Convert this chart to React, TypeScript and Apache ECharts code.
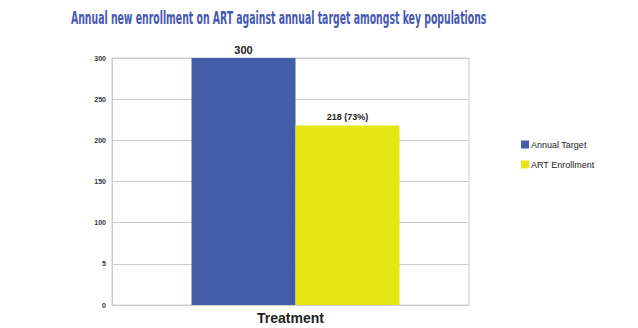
import React, { useEffect, useRef } from "react";
import * as echarts from "echarts";

const titleText = "Annual new enrollment on ART against annual target amongst key populations";
const categories = ["Treatment"];
const seriesNames = ["Annual Target", "ART Enrollment"];
const annualTarget = [300];
const artEnrollment = [218];
const yTickLabels = ["0", "5", "100", "150", "200", "250", "300"];

export default function App() {
  const ref = useRef<HTMLDivElement>(null);
  useEffect(() => {
    const chart = echarts.init(ref.current!, null, { renderer: "svg" });
    chart.setOption({
      animation: false,
      backgroundColor: "#ffffff",
      graphic: [
        {
          type: "text",
          x: 71,
          y: 18,
          scaleX: 0.61,
          scaleY: 1,
          style: {
            text: titleText,
            font: "bold 17px 'DejaVu Sans Condensed'",
            fill: "#4457b3",
            verticalAlign: "middle",
            align: "left",
          },
        },
      ],
      legend: {
        orient: "vertical",
        left: 516,
        top: 135,
        itemWidth: 8,
        itemHeight: 8,
        itemGap: 11,
        icon: "rect",
        textStyle: { fontSize: 9, color: "#222", fontFamily: "Liberation Sans", padding: [0, 0, 0, -3] },
        data: seriesNames,
      },
      grid: {
        left: 112,
        right: 169,
        top: 58,
        bottom: 23,
        show: true,
        borderColor: "#cccccc",
        borderWidth: 1,
      },
      xAxis: {
        type: "category",
        data: categories,
        axisLine: { show: true, lineStyle: { color: "#cccccc" } },
        axisTick: { show: false },
        axisLabel: {
          fontSize: 14,
          fontWeight: "bold",
          color: "#222",
          fontFamily: "Liberation Sans",
          margin: 6,
        },
      },
      yAxis: {
        type: "value",
        min: 0,
        max: 300,
        interval: 50,
        axisLine: { show: true, lineStyle: { color: "#cccccc" } },
        axisTick: { show: false },
        splitLine: { lineStyle: { color: "#cccccc" } },
        axisLabel: {
          fontSize: 7,
          fontWeight: "bold",
          color: "#333",
          fontFamily: "Liberation Sans",
          margin: 6,
          formatter: (v: number) => yTickLabels[Math.round(v / 50)] ?? String(v),
        },
      },
      series: [
        {
          name: "spacer",
          type: "bar",
          data: [0],
          barWidth: 10,
          barGap: "0%",
          silent: true,
          itemStyle: { opacity: 0 },
          label: { show: false },
        },
        {
          name: seriesNames[0],
          type: "bar",
          data: annualTarget,
          barWidth: 104,
          barGap: "0%",
          itemStyle: { color: "#435ea9" },
          label: {
            show: true,
            position: "top",
            distance: 3,
            fontSize: 11,
            fontWeight: "bold",
            color: "#222",
            fontFamily: "Liberation Sans",
          },
        },
        {
          name: seriesNames[1],
          type: "bar",
          data: artEnrollment,
          barWidth: 104,
          itemStyle: { color: "#e6e617" },
          label: {
            show: true,
            position: "top",
            distance: 4,
            fontSize: 9,
            fontWeight: "bold",
            color: "#222",
            fontFamily: "Liberation Sans",
            formatter: (p: any) =>
              `${p.value} (${Math.round((p.value / annualTarget[p.dataIndex]) * 100)}%)`,
          },
        },
      ],
    });
    return () => chart.dispose();
  }, []);
  return (
    <div
      ref={ref}
      style={{ position: "fixed", left: 0, top: 0, width: 638, height: 328 }}
    />
  );
}
